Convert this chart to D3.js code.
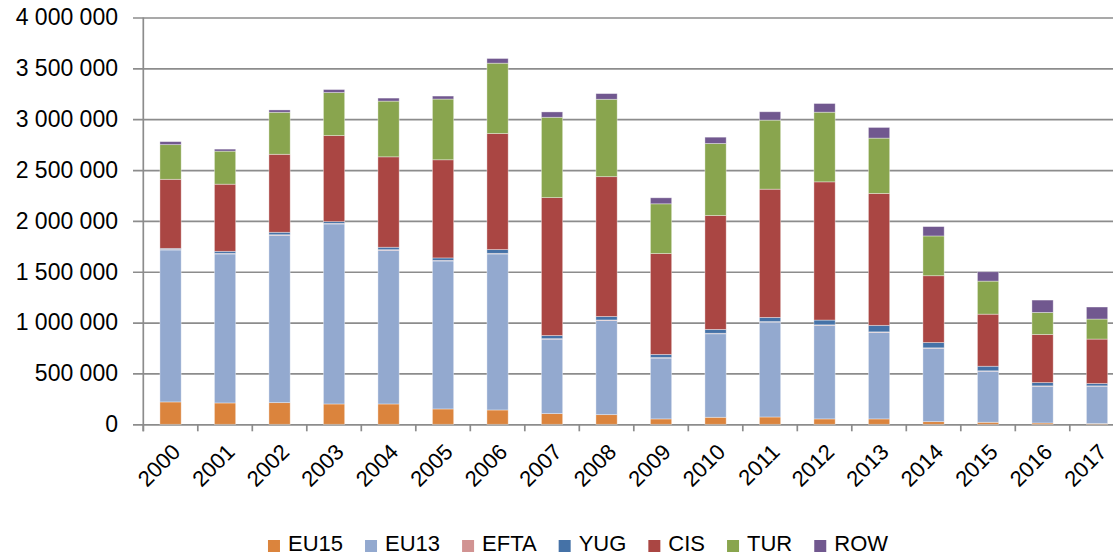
<!DOCTYPE html>
<html>
<head>
<meta charset="utf-8">
<script src="https://cdn.jsdelivr.net/npm/d3@7"></script>
<style>
body { margin: 0; background: #fff; }
svg { display: block; }
text { font-family: "Liberation Sans", Arial, sans-serif; fill: #000; }
</style>
</head>
<body>
<script>
// data
var years = ["2000","2001","2002","2003","2004","2005","2006","2007","2008",
             "2009","2010","2011","2012","2013","2014","2015","2016","2017"];
var seriesNames = ["EU15","EU13","EFTA","YUG","CIS","TUR","ROW"];
var seriesColors = ["#DB843D","#93A9CF","#D19392","#4572A7","#AA4643","#89A54E","#71588F"];

var eu15 = [220000,210000,213000,200000,200000,151000,141000,105000,95000,53000,69000,72000,53000,53000,26000,20000,13000,7000];
var eu13 = [1494000,1465000,1645000,1770000,1511000,1455000,1534000,732000,926000,598000,821000,933000,920000,851000,722000,502000,361000,368000];
var efta = [6000,6000,6000,6000,6000,6000,6000,5000,5000,5000,5000,5000,5000,5000,4000,4000,4000,3000];
var yug  = [10000,20000,24000,17000,24000,24000,37000,31000,34000,31000,38000,41000,47000,64000,52000,45000,32000,23000];
var cis  = [679000,660000,767000,846000,889000,965000,1141000,1356000,1375000,992000,1120000,1261000,1359000,1297000,657000,512000,473000,437000];
var tur  = [341000,325000,413000,423000,548000,597000,692000,790000,761000,489000,708000,679000,685000,544000,391000,325000,217000,197000];
var row  = [29500,19700,23000,29500,29500,29500,45900,52500,55700,59000,62300,82000,85200,104900,92000,92000,121500,118200];

var yTicks = [0,500000,1000000,1500000,2000000,2500000,3000000,3500000,4000000];

function drawChart()
{
    var width = 1113;
    var height = 556;
    var left = 143.3, right = 1124.3, top = 17.5, bottom = 424.3;

    var svg = d3.select("body").append("svg")
            .attr("width", width)
            .attr("height", height);

    var allSeries = [eu15, eu13, efta, yug, cis, tur, row];
    var rows = years.map(function (yr, i)
    {
        var o = { year: yr };
        seriesNames.forEach(function (s, k) { o[s] = allSeries[k][i]; });
        return o;
    });

    var x = d3.scaleBand().domain(years).range([left, right])
            .paddingInner(0.61).paddingOuter(0.305);
    var y = d3.scaleLinear().domain([0, 4000000]).range([bottom, top]);

    // gridlines + labels
    var fmt = function (v) { return d3.format(",")(v).replace(/,/g, " "); };
    var yAxis = svg.append("g")
        .attr("transform", "translate(133,0)")
        .call(d3.axisLeft(y).tickValues(yTicks).tickFormat(fmt)
              .tickSize(-(width - 133)).tickPadding(15));
    yAxis.select(".domain").remove();
    yAxis.selectAll("line").attr("stroke", "#8c8c8c").attr("stroke-width", 1.7);
    yAxis.selectAll("text").style("font-size", "23px").attr("fill", "#000");

    // bars
    var stack = d3.stack().keys(seriesNames);
    var layers = stack(rows);

    svg.append("g").selectAll("g")
       .data(layers)
       .enter()
       .append("g")
       .attr("fill", function (d, i) { return seriesColors[i]; })
       .selectAll("rect")
       .data(function (d) { return d; })
       .enter()
       .append("rect")
       .attr("x", function (d) { return x(d.data.year); })
       .attr("width", x.bandwidth())
       .attr("y", function (d) { return y(d[1]); })
       .attr("height", function (d) { return y(d[0]) - y(d[1]); })
       .attr("stroke", "#fff")
       .attr("stroke-opacity", 0.45)
       .attr("stroke-width", 0.8);

    // vertical axis line
    svg.append("line")
       .attr("x1", left).attr("x2", left)
       .attr("y1", top).attr("y2", bottom + 7)
       .attr("stroke", "#8c8c8c").attr("stroke-width", 1.7);

    // category tick marks at band boundaries
    svg.append("g").selectAll("line")
       .data(years)
       .enter()
       .append("line")
       .attr("x1", function (d) { return x(d) + x.bandwidth() / 2 - x.step() / 2; })
       .attr("x2", function (d) { return x(d) + x.bandwidth() / 2 - x.step() / 2; })
       .attr("y1", bottom).attr("y2", bottom + 7)
       .attr("stroke", "#8c8c8c").attr("stroke-width", 1.7);

    // year labels
    var xAxis = svg.append("g")
        .attr("transform", "translate(0," + bottom + ")")
        .call(d3.axisBottom(x).tickSize(0).tickPadding(0));
    xAxis.select(".domain").remove();
    xAxis.selectAll("text")
        .style("font-size", "22px")
        .attr("fill", "#000")
        .attr("text-anchor", "end")
        .attr("y", 0).attr("dy", 0)
        .attr("transform", "translate(11,29) rotate(-45)");

    // legend
    var legend = svg.append("g");
    var items = legend.selectAll("g")
        .data(seriesNames)
        .enter()
        .append("g");
    items.append("rect")
        .attr("width", 12).attr("height", 12)
        .attr("y", -11)
        .attr("fill", function (d, i) { return seriesColors[i]; });
    items.append("text")
        .attr("x", 20)
        .attr("y", 0)
        .style("font-size", "22px")
        .text(function (d) { return d; });

    var pos = 0;
    var offsets = [];
    items.each(function (d, i)
    {
        offsets.push(pos);
        var w = d3.select(this).select("text").node().getComputedTextLength();
        pos += 20 + w + 22;
    });
    var total = pos - 22;
    var startX = 578 - total / 2;
    items.attr("transform", function (d, i) { return "translate(" + (startX + offsets[i]) + ",0)"; });
    legend.attr("transform", "translate(0,551)");
}
drawChart();
</script>
</body>
</html>
